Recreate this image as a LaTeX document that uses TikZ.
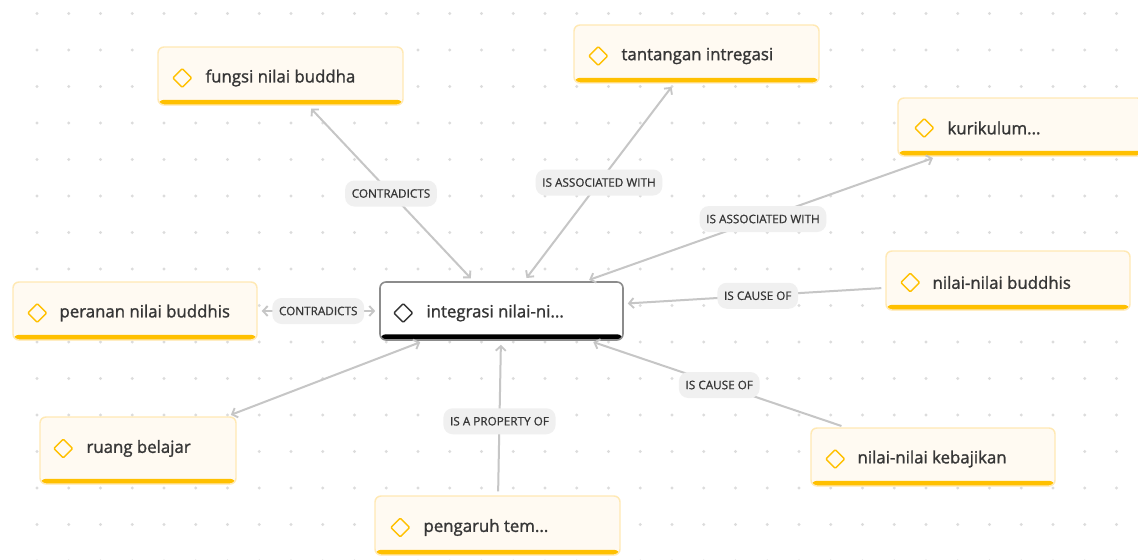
\documentclass[tikz,border=0pt]{standalone}
\usepackage{fontspec}
\setmainfont{Open Sans}
\newfontfamily\nodefont[FakeBold=1.4]{Open Sans}
\newfontfamily\labfont[FakeBold=0.8]{Open Sans}
\usetikzlibrary{arrows.meta,shapes.geometric,calc}
\definecolor{amber}{HTML}{FFC000}
\definecolor{cream}{HTML}{FFFAF2}
\definecolor{paleyellow}{HTML}{FFE9B4}
\definecolor{edgegray}{HTML}{C6C6C6}
\definecolor{labelbg}{HTML}{F0F0F0}
\definecolor{txt}{HTML}{363636}
\definecolor{dotgray}{HTML}{DCDCDC}
\definecolor{cborder}{HTML}{8C8C8C}
\begin{document}
\begin{tikzpicture}[x=0.75pt,y=-0.75pt,
  concept/.style 2 args={draw=paleyellow, fill=cream, line width=1.1pt,
    rounded corners=4.5pt, minimum width=#1*0.75pt, minimum height=#2*0.75pt,
    inner sep=0pt,
    path picture={\fill[amber] ([yshift=3.9pt]path picture bounding box.south west)
      rectangle (path picture bounding box.south east);}},
  central/.style 2 args={draw=cborder, fill=white, line width=1.2pt,
    rounded corners=4.5pt, minimum width=#1*0.75pt, minimum height=#2*0.75pt,
    inner sep=0pt,
    path picture={\fill[black] ([yshift=4.3pt]path picture bounding box.south west)
      rectangle (path picture bounding box.south east);}},
  icon/.style={draw=amber, shape=diamond, line width=1.1pt, minimum width=14.5pt,
    minimum height=14.5pt, inner sep=0pt, rounded corners=0.8pt},
  darkicon/.style={icon, draw=black!80},
  ctext/.style={anchor=west, text=txt, font=\nodefont\fontsize{12.6}{14}\selectfont, inner sep=0pt},
  edge/.style={draw=edgegray, line width=1.5pt, shorten >=3pt, shorten <=3pt},
  tip/.style={-{Straight Barb[length=3.5pt,width=7.5pt,line width=1.4pt]}},
  bitip/.style={{Straight Barb[length=3.5pt,width=7.5pt,line width=1.4pt]}-{Straight Barb[length=3.5pt,width=7.5pt,line width=1.4pt]}},
  elabel/.style={fill=labelbg, rounded corners=7pt, text=txt,
    font=\labfont\fontsize{8.8}{9}\selectfont, inner xsep=5pt, minimum height=19.5pt}
]
\useasboundingbox (0,0) rectangle (1138,560);
\clip (0,0) rectangle (1138,560);
\fill[white] (0,0) rectangle (1138,560);
% dot grid
\foreach \i in {0,...,34}{
  \foreach \j in {0,...,15}{
    \fill[dotgray] (37+31.75*\i, 13.5+36.5*\j) circle (1.2pt);
  }
}
% nodes
\node[central={243}{58}] (c) at (501.5,311) {};
\node[concept={245}{58}] (n1) at (280.5,76) {};
\node[concept={245}{58}] (n2) at (696.5,54) {};
\node[concept={245}{58}] (n3) at (1020.5,127) {};
\node[concept={244}{59}] (n4) at (1008,280.5) {};
\node[concept={244}{58}] (n5) at (933,457) {};
\node[concept={245}{59}] (n6) at (497.5,525.5) {};
\node[concept={196}{67}] (n7) at (138,450.5) {};
\node[concept={244}{58}] (n8) at (135,311) {};
% icons and texts
\node[darkicon] (ic) at ($(c.west)+(24,2)$) {};
\node[ctext] (tc) at ($(c.west)+(47,2)$) {integrasi nilai-ni...};
\node[icon] (i1) at ($(n1.west)+(25,2)$) {};
\node[ctext] (t1) at ($(n1.west)+(48,2)$) {fungsi nilai buddha};
\node[icon] (i2) at ($(n2.west)+(25,2)$) {};
\node[ctext] (t2) at ($(n2.west)+(48,2)$) {tantangan intregasi};
\node[icon] (i3) at ($(n3.west)+(27,1)$) {};
\node[ctext] (t3) at ($(n3.west)+(50,1)$) {kurikulum...};
\node[icon] (i4) at ($(n4.west)+(25,2)$) {};
\node[ctext] (t4) at ($(n4.west)+(47,2)$) {nilai-nilai buddhis};
\node[icon] (i5) at ($(n5.west)+(25,2)$) {};
\node[ctext] (t5) at ($(n5.west)+(47,2)$) {nilai-nilai kebajikan};
\node[icon] (i6) at ($(n6.west)+(26,2)$) {};
\node[ctext] (t6) at ($(n6.west)+(49,2)$) {pengaruh tem...};
\node[icon] (i7) at ($(n7.west)+(24,-2)$) {};
\node[ctext] (t7) at ($(n7.west)+(47,-2)$) {ruang belajar};
\node[icon] (i8) at ($(n8.west)+(25,2)$) {};
\node[ctext] (t8) at ($(n8.west)+(47,2)$) {peranan nilai buddhis};
% connectors
\draw[edge,bitip] (n1) -- (c);
\draw[edge,bitip] (n2) -- (c);
\draw[edge,bitip] (n3) -- (c);
\draw[edge,tip] (n4) -- (c);
\draw[edge,tip] (n5) -- (c);
\draw[edge,tip] (n6) -- (c);
\draw[edge,bitip] (n7) -- (c);
\draw[edge,bitip] (n8) -- (c);
% labels
\node[elabel] (l1) at ($(n1)!0.5!(c)$) {CONTRADICTS};
\node[elabel] (l2) at ($(n2)!0.5!(c)$) {IS ASSOCIATED WITH};
\node[elabel] (l3) at ($(n3)!0.5!(c)+(2,0)$) {IS ASSOCIATED WITH};
\node[elabel] (l4) at ($(n4)!0.5!(c)+(3,0)$) {IS CAUSE OF};
\node[elabel] (l5) at ($(n5)!0.5!(c)+(2,1)$) {IS CAUSE OF};
\node[elabel] (l6) at ($(n6)!0.5!(c)+(0,3)$) {IS A PROPERTY OF};
\node[elabel] (l8) at ($(n8)!0.5!(c)$) {CONTRADICTS};
\end{tikzpicture}
\end{document}
